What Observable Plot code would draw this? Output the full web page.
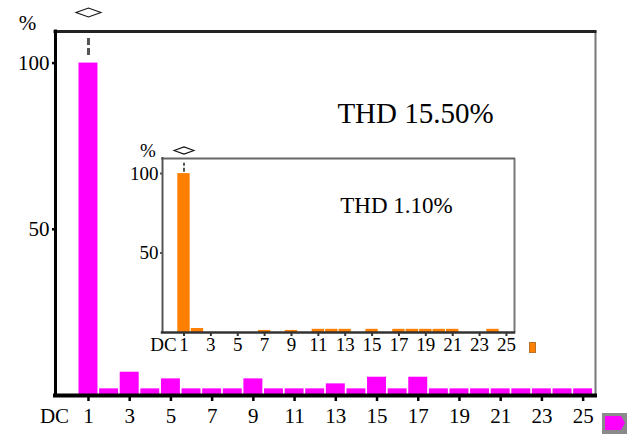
<!DOCTYPE html>
<html>
<head>
<meta charset="utf-8">
<script src="https://cdn.jsdelivr.net/npm/d3@7"></script>
<script src="https://cdn.jsdelivr.net/npm/@observablehq/plot@0.6"></script>
<style>
  body { margin: 0; background: #fff; }
  #chart { position: relative; width: 627px; height: 434px; font-family: "Liberation Serif", "Times New Roman", serif; }
  #chart > svg { position: absolute; overflow: visible; }
  .swatch { position: absolute; }
</style>
</head>
<body>
<div id="chart"></div>
<script>
// Harmonic spectra (percent of fundamental), harmonics 1..25
const harmonics = d3.range(1, 26);
const tickHarmonics = [1, 3, 5, 7, 9, 11, 13, 15, 17, 19, 21, 23, 25];
const mainPct = [100, 2, 7, 2, 5, 2, 2, 2, 5, 2, 2, 2, 3.5, 2, 5.5, 2, 5.5, 2, 2, 2, 2, 2, 2, 2, 2];
const insetPct = [100, 2.5, 0, 0, 0, 0, 1.3, 0, 1.3, 0, 2, 2, 2, 0, 2, 0, 2, 2, 2, 2, 2, 0, 0, 2, 0];
const mainYTicks = [50, 100];
const insetYTicks = [50, 100];
const mainThd = "THD 15.50%";
const insetThd = "THD 1.10%";
const dcLabel = "DC";
const unitLabel = "%";

const xDomain = [-0.6, 25.6];
const yDomain = [0, 109.5];
const halfBar = 0.46;

const rows = (values) => harmonics.map((h, i) => ({h, v: values[i]})).filter(d => d.v > 0);

// flat rhombus marker drawn above the fundamental
const rhombus = {
  draw(context, size) {
    const r = Math.sqrt(size / Math.PI);
    const w = r * 2.08, h = r * 0.75;
    context.moveTo(-w, 0);
    context.lineTo(0, -h);
    context.lineTo(w, 0);
    context.lineTo(0, h);
    context.closePath();
  }
};

function spectrum(cfg) {
  const data = rows(cfg.values);
  const fundamental = data.filter(d => d.h === 1);
  return Plot.plot({
    width: cfg.width,
    height: cfg.height,
    marginLeft: cfg.ml, marginRight: cfg.mr, marginTop: cfg.mt, marginBottom: cfg.mb,
    x: {domain: xDomain, label: null},
    y: {domain: yDomain, label: null},
    style: {fontFamily: '"Liberation Serif", "Times New Roman", serif', fontSize: cfg.fs + "px", color: "#000", background: "transparent", overflow: "visible"},
    marks: [
      Plot.rectY(data, {x1: d => d.h - halfBar, x2: d => d.h + halfBar, y1: 0, y2: "v", fill: cfg.color}),
      Plot.ruleX(fundamental, {x: "h", y1: d => d.v + cfg.dash[0], y2: d => d.v + cfg.dash[1], stroke: "#555", strokeWidth: cfg.dashW, strokeDasharray: cfg.dashPattern}),
      Plot.dot(fundamental, {x: "h", frameAnchor: "top", dy: cfg.markDy, symbol: rhombus, r: cfg.markR, stroke: "#111", fill: "none", strokeWidth: 1.1}),
      Plot.ruleX([xDomain[1]], {stroke: cfg.rightStroke, strokeWidth: 2}),
      Plot.ruleY([yDomain[1]], {stroke: cfg.topStroke, strokeWidth: cfg.topW, strokeLinecap: "square"}),
      Plot.ruleX([xDomain[0]], {stroke: cfg.leftStroke, strokeWidth: cfg.leftW, strokeLinecap: "square"}),
      Plot.ruleY([0], {stroke: cfg.bottomStroke, strokeWidth: cfg.bottomW, strokeLinecap: "square"}),
      Plot.axisX(tickHarmonics, {label: null, tickSize: cfg.xTick, tickPadding: cfg.xPad, stroke: cfg.bottomStroke, strokeWidth: cfg.tickW, fontSize: cfg.fs}),
      Plot.axisY(cfg.yTicks, {label: null, tickSize: cfg.yTick, tickPadding: cfg.yPad, stroke: cfg.leftStroke, strokeWidth: cfg.tickW, fontSize: cfg.fs}),
      Plot.text([dcLabel], {frameAnchor: "bottom-left", dx: cfg.dcDx, dy: cfg.xTick + cfg.xPad, lineAnchor: "top", textAnchor: "middle", fontSize: cfg.fs}),
      Plot.text([unitLabel], {frameAnchor: "top-left", dx: cfg.pctDx, dy: cfg.pctDy, textAnchor: "middle", lineAnchor: "middle", fontSize: cfg.fs}),
      Plot.text([cfg.thd], {frameAnchor: "top", dx: cfg.thdDx, dy: cfg.thdDy, textAnchor: "middle", lineAnchor: "middle", fontSize: cfg.thdFs})
    ]
  });
}

const main = spectrum({
  values: mainPct, color: "#ff00ff", yTicks: mainYTicks, thd: mainThd,
  width: 627, height: 434, ml: 55, mr: 32, mt: 31, mb: 39,
  fs: 21, thdFs: 29, thdDx: 90, thdDy: 82,
  leftStroke: "#000", leftW: 3, bottomStroke: "#000", bottomW: 4, topStroke: "#222", topW: 3, rightStroke: "#777",
  xTick: 6, xPad: 7, yTick: 3, yPad: 3, tickW: 2.5,
  dash: [2.3, 8.3], dashW: 3, dashPattern: "7,3",
  markDy: -19, markR: 6,
  dcDx: -1, pctDx: -28, pctDy: -8
});
main.style.left = "0px";
main.style.top = "0px";

const inset = spectrum({
  values: insetPct, color: "#ff8000", yTicks: insetYTicks, thd: insetThd,
  width: 420, height: 230, ml: 42, mr: 26, mt: 23, mb: 33,
  fs: 19, thdFs: 23, thdDx: 58, thdDy: 47,
  leftStroke: "#555", leftW: 2, bottomStroke: "#333", bottomW: 2.5, topStroke: "#666", topW: 2, rightStroke: "#777",
  xTick: 4, xPad: 1, yTick: 2, yPad: 2, tickW: 2,
  dash: [0.8, 6.5], dashW: 2, dashPattern: "4,2",
  markDy: -8, markR: 4.8,
  dcDx: 1, pctDx: -14.5, pctDy: -7.5
});
inset.style.left = "120px";
inset.style.top = "135px";

const chart = document.getElementById("chart");
chart.append(main, inset);

// series swatches
const orangeKey = document.createElement("div");
orangeKey.className = "swatch";
Object.assign(orangeKey.style, {left: "529px", top: "342px", width: "5px", height: "9px", background: "#ff8000", border: "1px solid #b8732a"});
chart.append(orangeKey);

const magentaKey = document.createElementNS("http://www.w3.org/2000/svg", "svg");
magentaKey.setAttribute("width", 25);
magentaKey.setAttribute("height", 21);
magentaKey.style.left = "602px";
magentaKey.style.top = "413px";
magentaKey.innerHTML = '<rect width="25" height="21" fill="#8a8a8a"/><polygon points="3,3 19,3 23,10 19,17 3,17" fill="#ff00ff"/>';
chart.append(magentaKey);
</script>
</body>
</html>
